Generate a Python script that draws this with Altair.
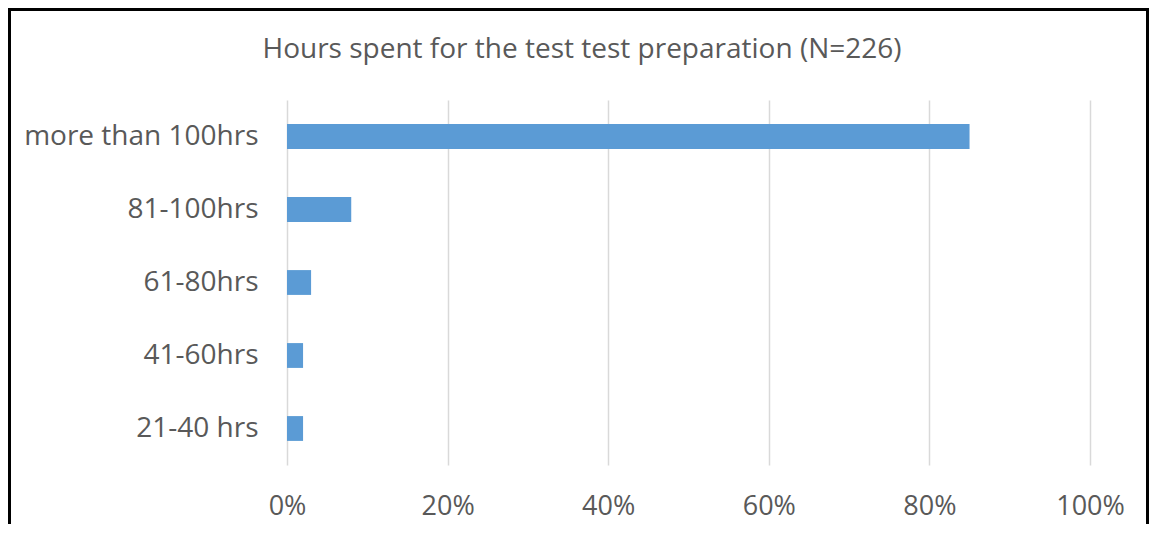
import altair as alt
import pandas as pd

categories = ["more than 100hrs", "81-100hrs", "61-80hrs", "41-60hrs", "21-40 hrs"]
shares = [0.85, 0.08, 0.03, 0.02, 0.02]
x_ticks = [0, 0.2, 0.4, 0.6, 0.8, 1.0]
title_text = ["Hours spent for the test test preparation (N=226)"]

df = pd.DataFrame({"category": categories, "share": shares})

FONT = "Open Sans"
GREY = "#595959"

PAD_L, PAD_T, PAD_R, PAD_B = 279, 92, 59, 59
W, H = 803, 365

bars = alt.Chart(df).mark_bar(color="#5B9BD5").encode(
    x=alt.X(
        "share:Q",
        scale=alt.Scale(domain=[0, 1], nice=False),
        axis=alt.Axis(
            values=x_ticks,
            format=".0%",
            title=None,
            domain=False,
            ticks=False,
            grid=True,
            gridColor="#d9d9d9",
            gridWidth=1.5,
            labelFont=FONT,
            labelFontSize=27,
            labelColor=GREY,
            labelPadding=28,
            labelFlush=False,
        ),
    ),
    y=alt.Y(
        "category:N",
        sort=categories,
        scale=alt.Scale(paddingInner=0.66, paddingOuter=0.33),
        axis=alt.Axis(
            title=None,
            domain=False,
            ticks=False,
            labelFont=FONT,
            labelFontSize=28,
            labelColor=GREY,
            labelPadding=29,
            labelLimit=400,
        ),
    ),
)

title = alt.Chart(pd.DataFrame({"t": title_text})).mark_text(
    font=FONT, fontSize=28, color=GREY, align="center", baseline="middle", clip=False
).encode(
    text="t:N",
    x=alt.value(295),
    y=alt.value(-50),
)

frame = alt.Chart(pd.DataFrame({"k": [0]})).mark_rect(
    fill=None, stroke="black", strokeWidth=3, clip=False
).encode(
    x=alt.value(-PAD_L + 1.5),
    x2=alt.value(W + PAD_R - 1.5),
    y=alt.value(-PAD_T + 1.5),
    y2=alt.value(H + PAD_B + 40),
)

chart = alt.layer(bars, title, frame).properties(
    width=W,
    height=H,
    padding={"left": PAD_L, "top": PAD_T, "right": PAD_R, "bottom": PAD_B},
    autosize=alt.AutoSizeParams(type="none"),
    background="white",
).configure_view(stroke=None)

chart.save("out.html", embed_options={"renderer": "svg", "actions": False})
